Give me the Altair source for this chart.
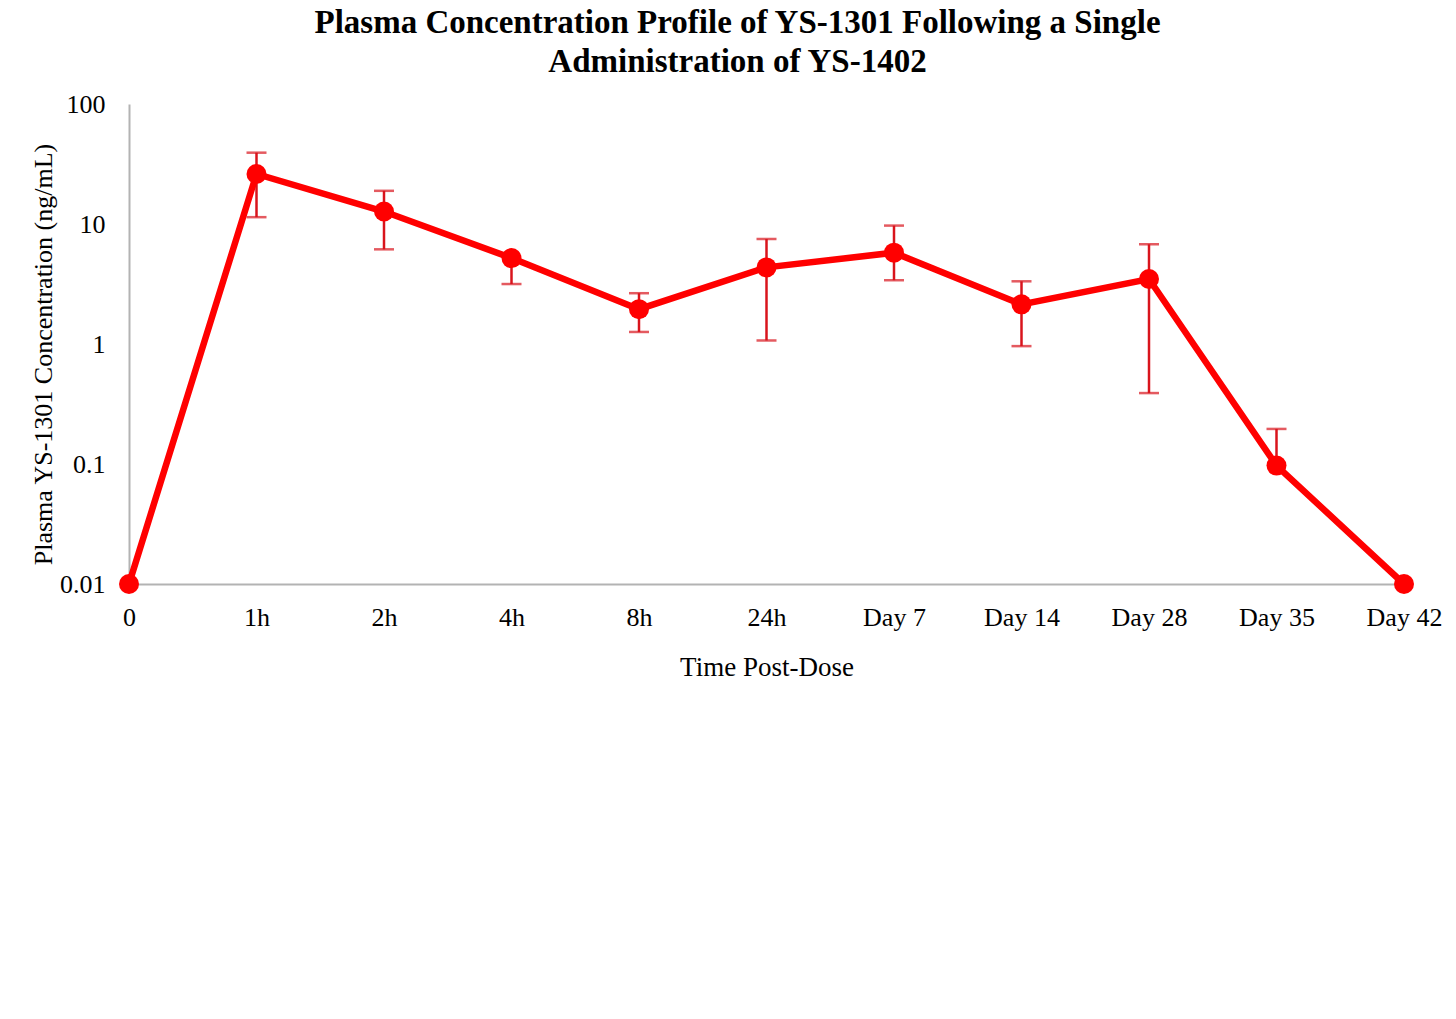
import altair as alt
import pandas as pd

# Sampling times and mean plasma concentrations (ng/mL)
times = ["0", "1h", "2h", "4h", "8h", "24h", "Day 7", "Day 14", "Day 28", "Day 35", "Day 42"]
conc = [0.01, 26.1, 12.7, 5.2, 1.95, 4.35, 5.77, 2.14, 3.48, 0.097, 0.01]
# Error bar limits (None = side not shown)
err_hi = [None, 39.3, 18.9, None, 2.65, 7.5, 9.7, 3.33, 6.78, 0.196, None]
err_lo = [None, 11.4, 6.15, 3.16, 1.26, 1.07, 3.4, 0.96, 0.39, None, None]

df = pd.DataFrame({"time": times, "conc": conc, "hi": err_hi, "lo": err_lo})
df["hi_r"] = df["hi"].fillna(df["conc"])
df["lo_r"] = df["lo"].fillna(df["conc"])

FONT = "Liberation Serif"
LINE_RED = "#ff0000"
ERR_RED = "#d9141c"

x_enc = alt.X(
    "time:N",
    sort=times,
    scale=alt.Scale(type="point", padding=0),
    axis=alt.Axis(
        title="Time Post-Dose",
        labelAngle=0,
        ticks=False,
        grid=False,
        domainColor="#b3b3b3",
        domainWidth=2,
        labelPadding=20,
        titlePadding=24,
    ),
)

y_scale = alt.Scale(type="log", domain=[0.01, 100])
y_axis = alt.Axis(
    title="Plasma YS-1301 Concentration (ng/mL)",
    values=[0.01, 0.1, 1, 10, 100],
    format="~g",
    ticks=False,
    grid=False,
    domainColor="#b3b3b3",
    domainWidth=2,
    labelPadding=24,
    titleFontSize=26,
    titleX=-86,
    titleY=250,
    titleBaseline="middle",
)

base = alt.Chart(df)

bars = base.transform_filter("datum.hi != null || datum.lo != null").mark_rule(
    color=ERR_RED, strokeWidth=2.5
).encode(
    x=x_enc,
    y=alt.Y("lo_r:Q", scale=y_scale, axis=y_axis),
    y2="hi_r:Q",
)

caps_hi = base.transform_filter("datum.hi != null").mark_tick(
    color=ERR_RED, thickness=2.5, size=20
).encode(x=x_enc, y=alt.Y("hi:Q", scale=y_scale, axis=y_axis))

caps_lo = base.transform_filter("datum.lo != null").mark_tick(
    color=ERR_RED, thickness=2.5, size=20
).encode(x=x_enc, y=alt.Y("lo:Q", scale=y_scale, axis=y_axis))

line = base.mark_line(color=LINE_RED, strokeWidth=6.5).encode(
    x=x_enc, y=alt.Y("conc:Q", scale=y_scale, axis=y_axis)
)

pts = base.mark_circle(color=LINE_RED, opacity=1, size=400).encode(
    x=x_enc, y=alt.Y("conc:Q", scale=y_scale, axis=y_axis)
)

chart = (
    alt.layer(bars, caps_hi, caps_lo, line, pts)
    .properties(
        width=1275,
        height=480,
        title=alt.TitleParams(
            text=[
                "Plasma Concentration Profile of YS-1301 Following a Single",
                "Administration of YS-1402",
            ],
            font=FONT,
            fontSize=33,
            fontWeight="bold",
            color="#000000",
            lineHeight=39,
            offset=12,
            dx=-29,
        ),
        autosize=alt.AutoSizeParams(type="none"),
        padding={"left": 129, "top": 104, "right": 52, "bottom": 435},
    )
    .configure_axis(
        labelFont=FONT,
        labelFontSize=26,
        labelColor="#000000",
        titleFont=FONT,
        titleFontSize=27,
        titleFontWeight="normal",
        titleColor="#000000",
    )
    .configure_view(stroke=None)
)

chart.save("out.html", embed_options={"renderer": "svg", "actions": False})
